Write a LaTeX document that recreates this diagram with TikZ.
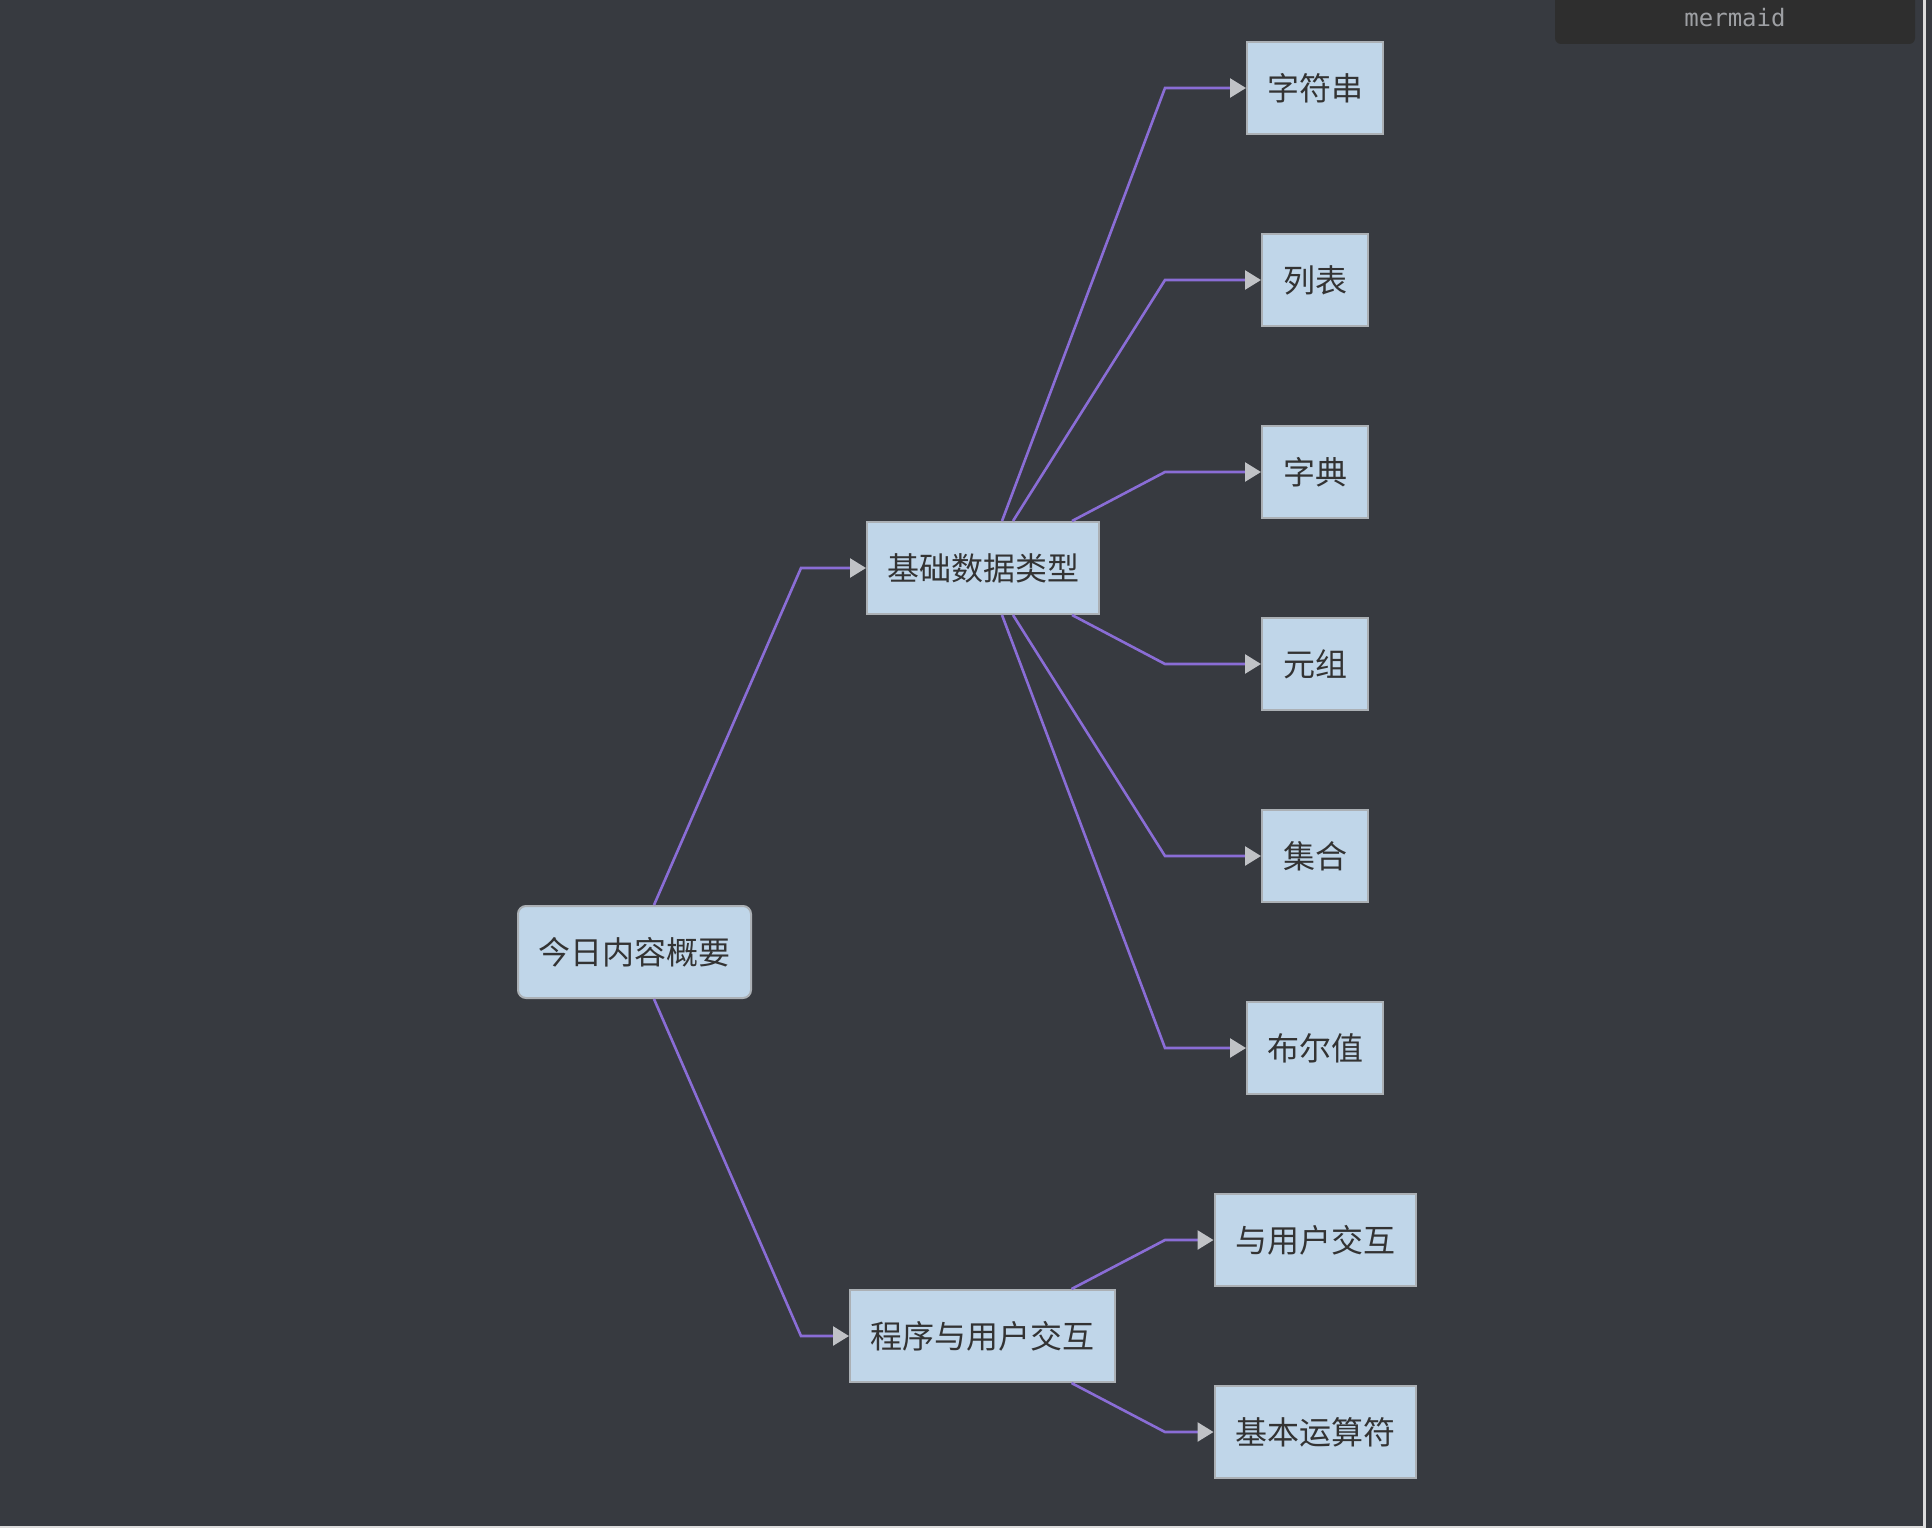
\documentclass[tikz,border=0pt]{standalone}
\usepackage{fontspec}
\newfontfamily\cjk{Noto Sans CJK SC}
\newfontfamily\monof{DejaVu Sans Mono}
\usetikzlibrary{arrows.meta}
\definecolor{bg}{HTML}{373A40}
\definecolor{nodefill}{HTML}{C0D6E9}
\definecolor{nodeborder}{HTML}{ABB0B5}
\definecolor{txt}{HTML}{333333}
\definecolor{edgec}{HTML}{8A6DD6}
\definecolor{tipc}{HTML}{C0C2C6}
\definecolor{tagbg}{HTML}{2E2E2E}
\definecolor{tagtxt}{HTML}{9EA0A4}
\definecolor{frame}{HTML}{DCDCDC}
\tikzset{
  x=1pt, y=-1pt,
  box/.style={draw=nodeborder, line width=2pt, fill=nodefill, text=txt,
    font=\cjk\fontsize{32}{36}\selectfont, inner sep=0pt, minimum height=92pt},
  edge/.style={draw=edgec, line width=2.6pt,
    -{Triangle[length=16pt, width=19pt, color=tipc]}},
}
\begin{document}
\begin{tikzpicture}
\useasboundingbox (0,0) rectangle (1932,1528);
\fill[bg] (0,0) rectangle (1932,1528);
% frame lines
\fill[frame] (1922.5,0) rectangle (1925.5,1528);
\fill[frame] (0,1525.5) rectangle (1925.5,1528);
% mermaid tag
\fill[tagbg, rounded corners=6pt] (1555,-10) rectangle (1915,44);
\node[font=\monof\fontsize{24}{28}\selectfont, text=tagtxt] (tag) at (1735,18) {mermaid};

% nodes
\node[box, rounded corners=8pt, minimum width=233pt] (root) at (634.5,952) {今日内容概要};
\node[box, minimum width=232pt] (jc) at (983,568) {基础数据类型};
\node[box, minimum width=265pt] (cx) at (982.5,1336) {程序与用户交互};
\node[box, minimum width=136pt] (zfc) at (1315,88) {字符串};
\node[box, minimum width=106pt] (lb) at (1315,280) {列表};
\node[box, minimum width=106pt] (zd) at (1315,472) {字典};
\node[box, minimum width=106pt] (yz) at (1315,664) {元组};
\node[box, minimum width=106pt] (jh) at (1315,856) {集合};
\node[box, minimum width=136pt] (bez) at (1315,1048) {布尔值};
\node[box, minimum width=201pt] (yh) at (1315,1240) {与用户交互};
\node[box, minimum width=201pt] (ysf) at (1315,1432) {基本运算符};

% edges
\draw[edge] ([xshift=19.5pt]root.north) -- (801,568) -- (jc.west);
\draw[edge] ([xshift=19.5pt]root.south) -- (801,1336) -- (cx.west);

\draw[edge] ([xshift=19pt]jc.north) -- (1165,88) -- (zfc.west);
\draw[edge] ([xshift=30pt]jc.north) -- (1165,280) -- (lb.west);
\draw[edge] ([xshift=89pt]jc.north) -- (1165,472) -- (zd.west);
\draw[edge] ([xshift=89pt]jc.south) -- (1165,664) -- (yz.west);
\draw[edge] ([xshift=30pt]jc.south) -- (1165,856) -- (jh.west);
\draw[edge] ([xshift=19pt]jc.south) -- (1165,1048) -- (bez.west);

\draw[edge] ([xshift=89pt]cx.north) -- (1165,1240) -- (yh.west);
\draw[edge] ([xshift=89pt]cx.south) -- (1165,1432) -- (ysf.west);
\end{tikzpicture}
\end{document}
